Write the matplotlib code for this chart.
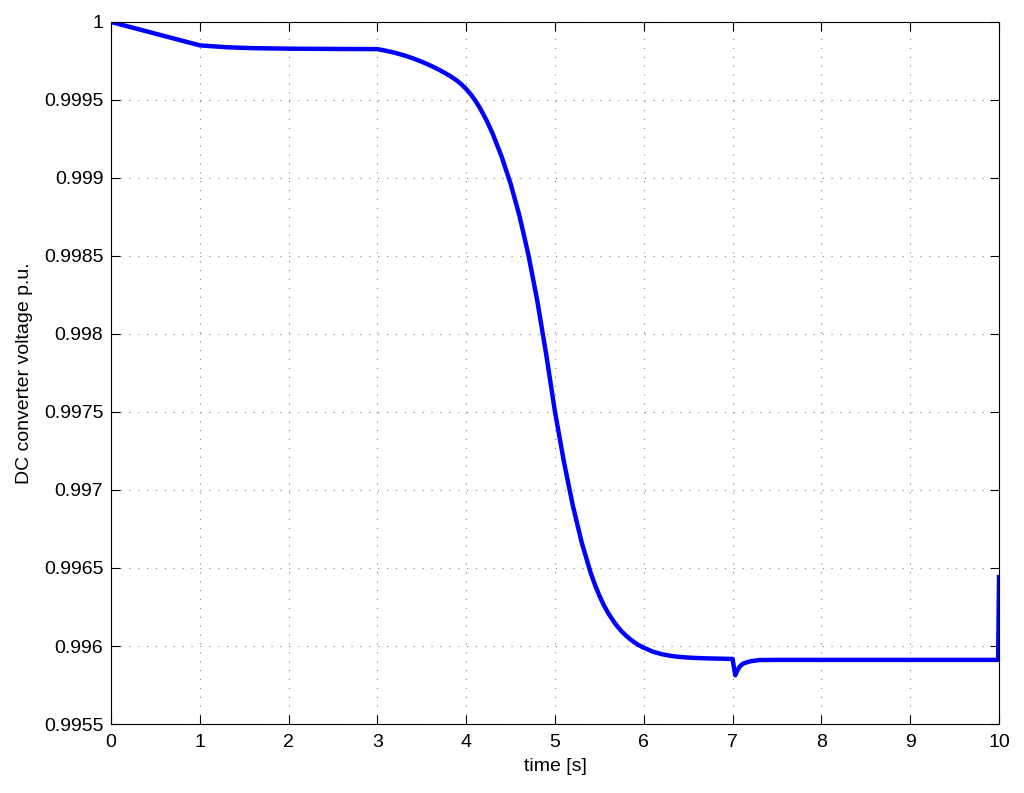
import numpy as np
import matplotlib
matplotlib.use('Agg')
import matplotlib.pyplot as plt
from matplotlib.ticker import FuncFormatter

plt.rcParams['font.family'] = ['Liberation Sans', 'DejaVu Sans']

# values
time_s = [0.0, 1.0, 1.3, 1.6, 2.0, 2.5, 3.0,
          3.1, 3.2, 3.3, 3.4, 3.5, 3.6, 3.7, 3.8, 3.85, 3.9, 3.95,
          4.0, 4.05, 4.1, 4.15, 4.2, 4.25, 4.3, 4.4, 4.5, 4.6, 4.7, 4.8, 4.9,
          5.0, 5.1, 5.2, 5.3, 5.4, 5.45, 5.5, 5.55, 5.6, 5.65, 5.7, 5.75,
          5.8, 5.85, 5.9, 5.95, 6.0, 6.1, 6.2, 6.3, 6.4, 6.55, 6.7, 7.0,
          7.01, 7.03, 7.05, 7.08, 7.12, 7.2, 7.3, 7.5,
          8.0, 9.0, 9.99, 10.0]
v_dc = [1.0, 0.999850, 0.999838, 0.999832, 0.999829, 0.999827, 0.999826,
        0.999815, 0.999802, 0.999786, 0.999767, 0.999745, 0.999720,
        0.999692, 0.999660, 0.999642, 0.999622, 0.999598,
        0.999570, 0.999537, 0.999498, 0.999453, 0.999401, 0.999344,
        0.999281, 0.999135, 0.998963, 0.998757, 0.998509, 0.998214, 0.997872,
        0.997500, 0.997182, 0.996902, 0.996665, 0.996472, 0.996392,
        0.996322, 0.996261, 0.996210, 0.996166, 0.996127, 0.996094,
        0.996066, 0.996042, 0.996021, 0.996003, 0.995989, 0.995964,
        0.995948, 0.995937, 0.995930, 0.995924, 0.995921, 0.995917,
        0.995880, 0.995812, 0.995840, 0.995868, 0.995888, 0.995902, 0.995910,
        0.995911, 0.995911, 0.995911, 0.995911, 0.996442]

fig = plt.figure(figsize=(10.24, 7.93), dpi=100)
ax = fig.add_axes([0.1084, 0.0870, 0.8672, 0.8853])

ax.plot(time_s, v_dc, color='#0000ff', lw=3.2)

ax.set_xlim(0, 10)
ax.set_ylim(0.9955, 1.0)
ax.set_xticks(np.arange(0, 11, 1))
ax.set_yticks(np.arange(0.9955, 1.00001, 0.0005))
ax.yaxis.set_major_formatter(FuncFormatter(lambda v, p: f'{v:.4f}'.rstrip('0').rstrip('.')))

ax.grid(True, color='#808080', ls=(0, (1, 7)), lw=0.8)
ax.tick_params(direction='in', length=6.5, top=True, right=True, labelsize=14)
ax.tick_params(axis='y', pad=5.5)
ax.tick_params(axis='x', pad=7)
for s in ax.spines.values():
    s.set_linewidth(0.8)

ax.set_xlabel('time [s]', fontsize=14, labelpad=5)
ax.set_ylabel('DC converter voltage p.u.', fontsize=14, labelpad=8)

fig.savefig('out.png', dpi=100)
